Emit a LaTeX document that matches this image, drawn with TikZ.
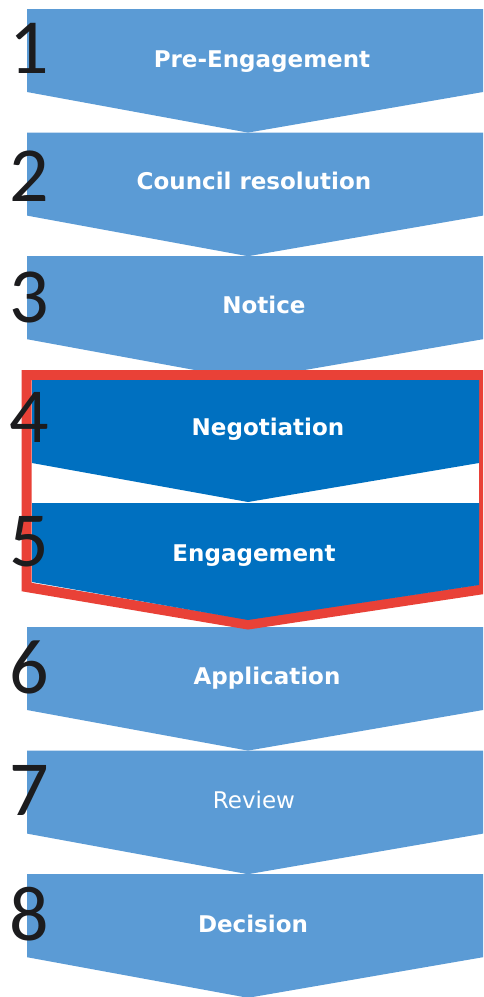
\documentclass[tikz,border=0pt]{standalone}
\usepackage{fontspec}
\setmainfont{DejaVu Sans}
\newfontfamily\digitfont{Carlito}
\usepackage{tikz}
\definecolor{stepblue}{RGB}{91,155,213}
\definecolor{deepblue}{RGB}{0,112,192}
\definecolor{framered}{RGB}{233,65,55}
\definecolor{digitgray}{RGB}{28,28,30}

\tikzset{
  lightstep/.style={fill=stepblue},
  darkstep/.style={fill=deepblue},
  steplabel/.style={anchor=base, text=white, inner sep=0pt, font=\fontsize{23}{23}\selectfont\bfseries},
  stepnum/.style={text=digitgray, inner sep=0pt, font=\digitfont\fontsize{78}{78}\selectfont}
}

\begin{document}
\begin{tikzpicture}[x=1pt, y=-1pt]
	\clip (0,0) rectangle (483,997);
	\fill[white] (0,0) rectangle (483,997);

	% light steps
	\fill[lightstep] (27,9) -- (483,9) -- (483,92) -- (248,132.6) -- (27,92) -- cycle;
	\fill[lightstep] (27,132.6) -- (483,132.6) -- (483,215.6) -- (248,256.2) -- (27,215.6) -- cycle;
	\fill[lightstep] (27,256.2) -- (483,256.2) -- (483,339.2) -- (248,379.8) -- (27,339.2) -- cycle;
	\fill[lightstep] (27,627) -- (483,627) -- (483,710) -- (248,750.6) -- (27,710) -- cycle;
	\fill[lightstep] (27,750.6) -- (483,750.6) -- (483,833.6) -- (248,874.2) -- (27,833.6) -- cycle;
	\fill[lightstep] (27,874.2) -- (483,874.2) -- (483,957.2) -- (248,997.8) -- (27,957.2) -- cycle;

	% highlighted steps
	\draw[framered, line width=10pt, line join=miter] (26.5,375) -- (484,375) -- (484,589) -- (248,624.5) -- (26.5,587) -- cycle;
	\fill[darkstep] (32,380) -- (479,380) -- (479,463) -- (248,502) -- (32,463) -- cycle;
	\fill[darkstep] (32,503) -- (479,503) -- (479,585) -- (248,620) -- (32,582) -- cycle;

	% labels
	\node[steplabel] (pre) at (262,67) {Pre-Engagement};
	\node[steplabel] (council) at (254,189.6) {Council resolution};
	\node[steplabel] (notice) at (264,313.2) {Notice};
	\node[steplabel] (nego) at (268,435) {Negotiation};
	\node[steplabel] (engage) at (254,561) {Engagement};
	\node[steplabel] (appl) at (267,684) {Application};
	\node[steplabel, font=\fontsize{23}{23}\selectfont] (review) at (254,808) {Review};
	\node[steplabel] (decision) at (253,932) {Decision};

	% numbers
	\node[stepnum] (n1) at (29,48) {1};
	\node[stepnum] (n2) at (29,176) {2};
	\node[stepnum] (n3) at (29,297) {3};
	\node[stepnum] (n4) at (29,417) {4};
	\node[stepnum] (n5) at (29,542) {5};
	\node[stepnum] (n6) at (29,667) {6};
	\node[stepnum] (n7) at (29,790) {7};
	\node[stepnum] (n8) at (29,914) {8};
\end{tikzpicture}
\end{document}
